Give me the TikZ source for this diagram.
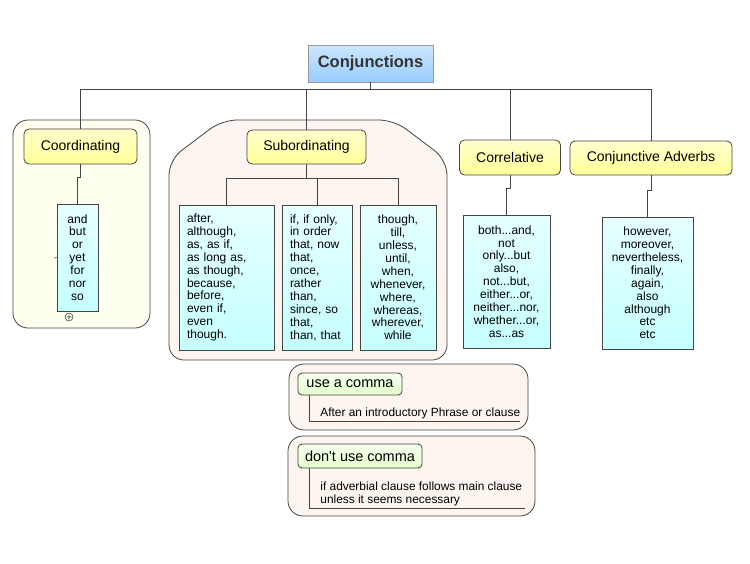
\documentclass[tikz,border=0pt]{standalone}
\usepackage{fontspec}
\setmainfont{Liberation Sans}
\newfontfamily\plainfont{Liberation Sans}
\usepackage{xcolor}
\definecolor{edge}{HTML}{444444}
\definecolor{rootTop}{HTML}{CCE6FF}
\definecolor{rootBot}{HTML}{99CCFF}
\definecolor{yelTop}{HTML}{FFFFCC}
\definecolor{yelBot}{HTML}{FFFF99}
\definecolor{cyTop}{HTML}{E6FFFF}
\definecolor{cyBot}{HTML}{C6FFFF}
\definecolor{grTop}{HTML}{F6FFEE}
\definecolor{grBot}{HTML}{E6FFCC}
\definecolor{coordFill}{HTML}{FFFFF0}
\definecolor{subFill}{HTML}{FDF5F0}

\begin{document}
\begin{tikzpicture}[x=1pt, y=-1pt, line width=0.8pt,
  every node/.style={font=\fontsize{12}{12.9}\selectfont, inner sep=0pt},
  topic/.style={draw=edge, rounded corners=5pt, top color=yelTop, bottom color=yelBot, font=\fontsize{14}{16}\selectfont},
  listbox/.style={draw=edge, top color=cyTop, bottom color=cyBot, align=center},
  leftlist/.style={listbox, align=left, inner xsep=8pt},
  note/.style={draw=edge, rounded corners=4pt, top color=grTop, bottom color=grBot, font=\fontsize{14.5}{16}\selectfont\plainfont},
  group/.style={draw=edge, rounded corners=15pt}]
  \useasboundingbox (0,0) rectangle (750,563);
  % groups in the back
  \draw[group, fill=coordFill] (13,120) rectangle (150,328);
  \draw[group, fill=subFill] (169,360) -- (169,160) -- (222,120) -- (394,120)
    -- (447,160) -- (447,360) -- cycle;
  \draw[group, fill=subFill] (289,364) rectangle (528,430);
  \draw[group, fill=subFill] (288,436) rectangle (535,516);
  % root and main branches
  \node[draw=gray!80, top color=rootTop, bottom color=rootBot, minimum width=125pt, minimum height=37pt,
    text=black!80, font=\fontsize{16.5}{18}\selectfont\bfseries] (conj) at (370.5,63.5) {Conjunctions};
  \node[topic, minimum width=113pt, minimum height=35pt] (coord) at (80.5,146.5) {Coordinating};
  \node[topic, minimum width=119pt, minimum height=34pt] (sub) at (306.5,147) {Subordinating};
  \node[topic, minimum width=101pt, minimum height=35pt] (correl) at (510,157.5) {Correlative};
  \node[topic, minimum width=162pt, minimum height=34pt] (adverb) at (651,158) {Conjunctive Adverbs};
  \coordinate (bus) at (370.5,89);
  \draw[edge] (conj.south) -- (bus);
  \foreach \n in {coord,sub,correl,adverb}
    \draw[edge] (bus) -| (\n.north);
  % word lists
  \node[listbox, minimum width=41pt, minimum height=107pt] (colist) at (77.5,257.5)
    {and\\but\\or\\yet\\for\\nor\\so};
  \node[leftlist, text width=79pt, minimum height=145pt] (s1) at (226.5,277.5)
    {after,\\although,\\as, as if,\\as long as,\\as though,\\because,\\before,\\even if,\\even\\though.};
  \node[leftlist, text width=54pt, minimum height=145pt] (s2) at (317,277.5)
    {if, if only,\\in order\\that, now\\that,\\once,\\rather\\than,\\since, so\\that,\\than, that};
  \node[listbox, minimum width=76pt, minimum height=145pt] (s3) at (398,277.5)
    {though,\\till,\\unless,\\until,\\when,\\whenever,\\where,\\whereas,\\wherever,\\while};
  \node[listbox, minimum width=87pt, minimum height=133pt] (clist) at (506.5,281.5)
    {both...and,\\not\\only...but\\also,\\not...but,\\either...or,\\neither...nor,\\whether...or,\\as...as};
  \node[listbox, minimum width=91pt, minimum height=132pt] (alist) at (647.5,283)
    {however,\\moreover,\\nevertheless,\\finally,\\again,\\also\\although\\etc\\etc};
  \draw[edge] (coord.south) -- ++(0,13) -| (colist.north);
  \draw[edge] (correl.south) -- ++(0,13) -| (clist.north);
  \draw[edge] (adverb.south) -- ++(0,15) -| (alist.north);
  \draw[edge] (sub.south) -- ++(0,14) coordinate (sbus);
  \foreach \n in {s1,s2,s3}
    \draw[edge] (sbus) -| (\n.north);
  \draw[edge, line width=0.6pt] (54,258) -- (colist.west);
  \draw[edge, line width=0.6pt] (69,317) circle (4pt) (66.5,317) -- (71.5,317) (69,314.5) -- (69,319.5);
  % comma notes
  \node[note, minimum width=104pt, minimum height=22pt] (comma) at (350,384) {use a comma};
  \node[note, minimum width=124pt, minimum height=24pt] (nocomma) at (360,456) {don't use comma};
  \coordinate (commaend) at (520,421);
  \coordinate (nocommaend) at (525,508);
  \draw[edge] ([xshift=12pt]comma.south west) |- (commaend);
  \draw[edge] ([xshift=12pt]nocomma.south west) |- (nocommaend);
  \node[anchor=base west, font=\fontsize{11.9}{13}\selectfont] (after) at (320,416)
    {After an introductory Phrase or clause};
  \node[anchor=base west, align=left, font=\fontsize{11.9}{13}\selectfont] (main) at (320,503)
    {if adverbial clause follows main clause\\unless it seems necessary};
\end{tikzpicture}
\end{document}
